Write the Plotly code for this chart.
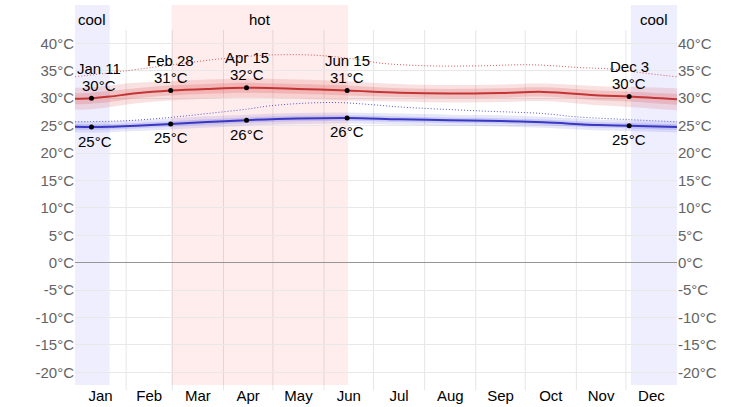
import plotly.graph_objects as go

# ---------------- data ----------------
months = ["Jan", "Feb", "Mar", "Apr", "May", "Jun", "Jul", "Aug", "Sep", "Oct", "Nov", "Dec"]
month_starts = [0, 31, 59, 90, 120, 151, 181, 212, 243, 273, 304, 334, 365]

days = [0, 10, 21, 37, 58, 80, 104, 135, 165, 197, 227, 258, 284, 318, 336, 365]
high = [29.9, 30.0, 30.3, 30.9, 31.4, 31.7, 31.9, 31.7, 31.4, 31.0, 30.85, 30.95, 31.15, 30.5, 30.3, 29.8]
high_p90 = [31.9, 32.0, 32.3, 32.8, 33.1, 33.4, 33.6, 33.4, 33.1, 32.6, 32.4, 32.5, 32.7, 32.2, 32.1, 31.8]
high_p75 = [30.9, 31.0, 31.3, 31.8, 32.3, 32.6, 32.8, 32.6, 32.3, 31.8, 31.7, 31.8, 32.0, 31.4, 31.2, 30.8]
high_p25 = [28.9, 29.0, 29.3, 30.0, 30.5, 30.8, 31.0, 30.8, 30.5, 30.2, 30.0, 30.1, 30.3, 29.6, 29.4, 28.8]
high_p10 = [27.9, 28.0, 28.4, 29.1, 29.6, 29.9, 30.1, 29.9, 29.6, 29.4, 29.2, 29.3, 29.5, 28.7, 28.4, 27.8]

low = [24.8, 24.75, 24.8, 25.0, 25.3, 25.65, 26.0, 26.3, 26.4, 26.15, 26.0, 25.85, 25.6, 25.1, 25.0, 24.75]
low_p90 = [25.8, 25.75, 25.8, 26.0, 26.3, 26.7, 27.0, 27.3, 27.4, 27.2, 27.0, 26.9, 26.6, 26.1, 26.0, 25.75]
low_p75 = [25.3, 25.25, 25.3, 25.5, 25.8, 26.15, 26.5, 26.8, 26.9, 26.65, 26.5, 26.35, 26.1, 25.6, 25.5, 25.25]
low_p25 = [24.3, 24.25, 24.3, 24.5, 24.8, 25.15, 25.5, 25.8, 25.9, 25.65, 25.5, 25.35, 25.1, 24.6, 24.5, 24.25]
low_p10 = [23.8, 23.75, 23.8, 24.0, 24.3, 24.65, 25.0, 25.3, 25.4, 25.15, 25.0, 24.85, 24.6, 24.1, 24.0, 23.75]

feel_high_days = [0, 31, 59, 92, 120, 148, 173, 185, 215, 245, 276, 306, 326, 342, 365]
feel_high = [33.9, 35.0, 36.1, 37.3, 37.9, 37.8, 37.0, 36.4, 35.9, 35.9, 36.1, 35.6, 35.3, 34.7, 33.9]
feel_low_days = [0, 31, 58, 80, 104, 118, 140, 160, 181, 197, 244, 284, 304, 336, 365]
feel_low = [25.7, 25.9, 26.5, 27.2, 28.0, 28.6, 29.1, 29.2, 28.8, 28.4, 27.7, 27.2, 26.6, 26.1, 25.7]

event_days = [10, 58, 104, 165, 336]
event_names = ["Jan 11", "Feb 28", "Apr 15", "Jun 15", "Dec 3"]
event_high = [30, 31, 32, 31, 30]
event_low = [25, 25, 26, 26, 25]

cool_seasons = [(0, 21), (337, 365)]
hot_seasons = [(58.5, 165.5)]

y_ticks = [-20, -15, -10, -5, 0, 5, 10, 15, 20, 25, 30, 35, 40]
y_tick_labels = ["-20°C", "-15°C", "-10°C", "-5°C", "0°C", "5°C", "10°C", "15°C", "20°C",
                 "25°C", "30°C", "35°C", "40°C"]
y_range = [-22.3, 47]

# ---------------- figure ----------------
RED = "rgb(196,52,52)"
BLUE = "rgb(56,56,196)"
FS = 15

fig = go.Figure()

def band(lo, hi, color):
    fig.add_trace(go.Scatter(x=days, y=lo, mode="lines", line=dict(width=0, shape="spline"),
                             hoverinfo="skip", showlegend=False))
    fig.add_trace(go.Scatter(x=days, y=hi, mode="lines", line=dict(width=0, shape="spline"),
                             fill="tonexty", fillcolor=color, hoverinfo="skip", showlegend=False))

band(high_p10, high_p90, "rgba(215,70,70,0.16)")
band(high_p25, high_p75, "rgba(215,70,70,0.20)")
band(low_p10, low_p90, "rgba(70,70,215,0.13)")
band(low_p25, low_p75, "rgba(70,70,215,0.18)")

fig.add_trace(go.Scatter(x=feel_high_days, y=feel_high, mode="lines",
                         line=dict(color="rgba(205,60,60,0.85)", width=1, dash="1px,2px", shape="spline"),
                         showlegend=False))
fig.add_trace(go.Scatter(x=feel_low_days, y=feel_low, mode="lines",
                         line=dict(color="rgba(60,60,205,0.85)", width=1, dash="1px,2px", shape="spline"),
                         showlegend=False))

fig.add_trace(go.Scatter(x=days, y=high, mode="lines", line=dict(color=RED, width=2, shape="spline"),
                         showlegend=False))
fig.add_trace(go.Scatter(x=days, y=low, mode="lines", line=dict(color=BLUE, width=2, shape="spline"),
                         showlegend=False))

ev_high_y = [high[days.index(d)] for d in event_days]
ev_low_y = [low[days.index(d)] for d in event_days]
fig.add_trace(go.Scatter(x=event_days + event_days, y=ev_high_y + ev_low_y, mode="markers",
                         marker=dict(color="black", size=5), showlegend=False))

# invisible trace for right axis
fig.add_trace(go.Scatter(x=[0], y=[0], yaxis="y2", mode="markers",
                         marker=dict(opacity=0), hoverinfo="skip", showlegend=False))

shapes = []
for a, b in cool_seasons:
    shapes.append(dict(type="rect", xref="x", yref="paper", x0=a, x1=b, y0=0, y1=1,
                       fillcolor="rgb(238,238,255)", line=dict(width=0), layer="below"))
for a, b in hot_seasons:
    shapes.append(dict(type="rect", xref="x", yref="paper", x0=a, x1=b, y0=0, y1=1,
                       fillcolor="rgb(255,236,236)", line=dict(width=0), layer="below"))
for m in month_starts[1:-1]:
    shapes.append(dict(type="line", xref="x", yref="paper", x0=m, x1=m, y0=-0.014, y1=0.934,
                       line=dict(color="rgba(0,0,0,0.10)", width=1), layer="between"))

annotations = []
for d, name, th, tl, yh, yl in zip(event_days, event_names, event_high, event_low, ev_high_y, ev_low_y):
    # keep labels near the left edge inside the plot area
    xs_hi = 8 if d < 20 else 0
    xs_lo = 4 if d < 20 else 0
    annotations.append(dict(x=d, y=yh, xref="x", yref="y", text=name, showarrow=False,
                            yanchor="middle", yshift=30, xshift=xs_hi, font=dict(size=FS, color="black")))
    annotations.append(dict(x=d, y=yh, xref="x", yref="y", text=f"{th}°C", showarrow=False,
                            yanchor="middle", yshift=13, xshift=xs_hi, font=dict(size=FS, color="black")))
    annotations.append(dict(x=d, y=yl, xref="x", yref="y", text=f"{tl}°C", showarrow=False,
                            yanchor="middle", yshift=-14, xshift=xs_lo, font=dict(size=FS, color="black")))
for a, b in cool_seasons:
    annotations.append(dict(x=(a + b) / 2, y=(385 - 19) / 380, xref="x", yref="paper", text="cool",
                            yanchor="middle", showarrow=False, font=dict(size=FS, color="black")))
for a, b in hot_seasons:
    annotations.append(dict(x=(a + b) / 2, y=(385 - 19) / 380, xref="x", yref="paper", text="hot",
                            yanchor="middle", showarrow=False, font=dict(size=FS, color="black")))

mid_months = [(month_starts[i] + month_starts[i + 1]) / 2 for i in range(12)]

axis_font = dict(size=FS, color="rgb(100,100,100)")
fig.update_layout(
    width=753, height=407,
    margin=dict(l=75, r=76, t=5, b=22, autoexpand=False),
    paper_bgcolor="white", plot_bgcolor="rgba(0,0,0,0)",
    font=dict(family="Liberation Sans, Arial, Helvetica, sans-serif"),
    shapes=shapes, annotations=annotations,
    xaxis=dict(range=[0, 365], tickvals=mid_months, ticktext=months, showgrid=False,
               zeroline=False, showline=False, ticks="", tickfont=dict(size=FS, color="black"),
               fixedrange=True),
    yaxis=dict(range=y_range, tickvals=y_ticks, ticktext=y_tick_labels, showgrid=True,
               gridcolor="rgb(232,232,232)", zeroline=True, zerolinecolor="rgb(150,150,150)",
               zerolinewidth=1, showline=False, ticks="",
               tickfont=axis_font, fixedrange=True),
    yaxis2=dict(range=y_range, tickvals=y_ticks, ticktext=y_tick_labels, overlaying="y", side="right",
                showgrid=False, zeroline=False, showline=False, ticks="", tickfont=axis_font,
                fixedrange=True),
)

fig.write_html("out.html", config={"displayModeBar": False},
               post_script="document.body.style.margin='0';")
